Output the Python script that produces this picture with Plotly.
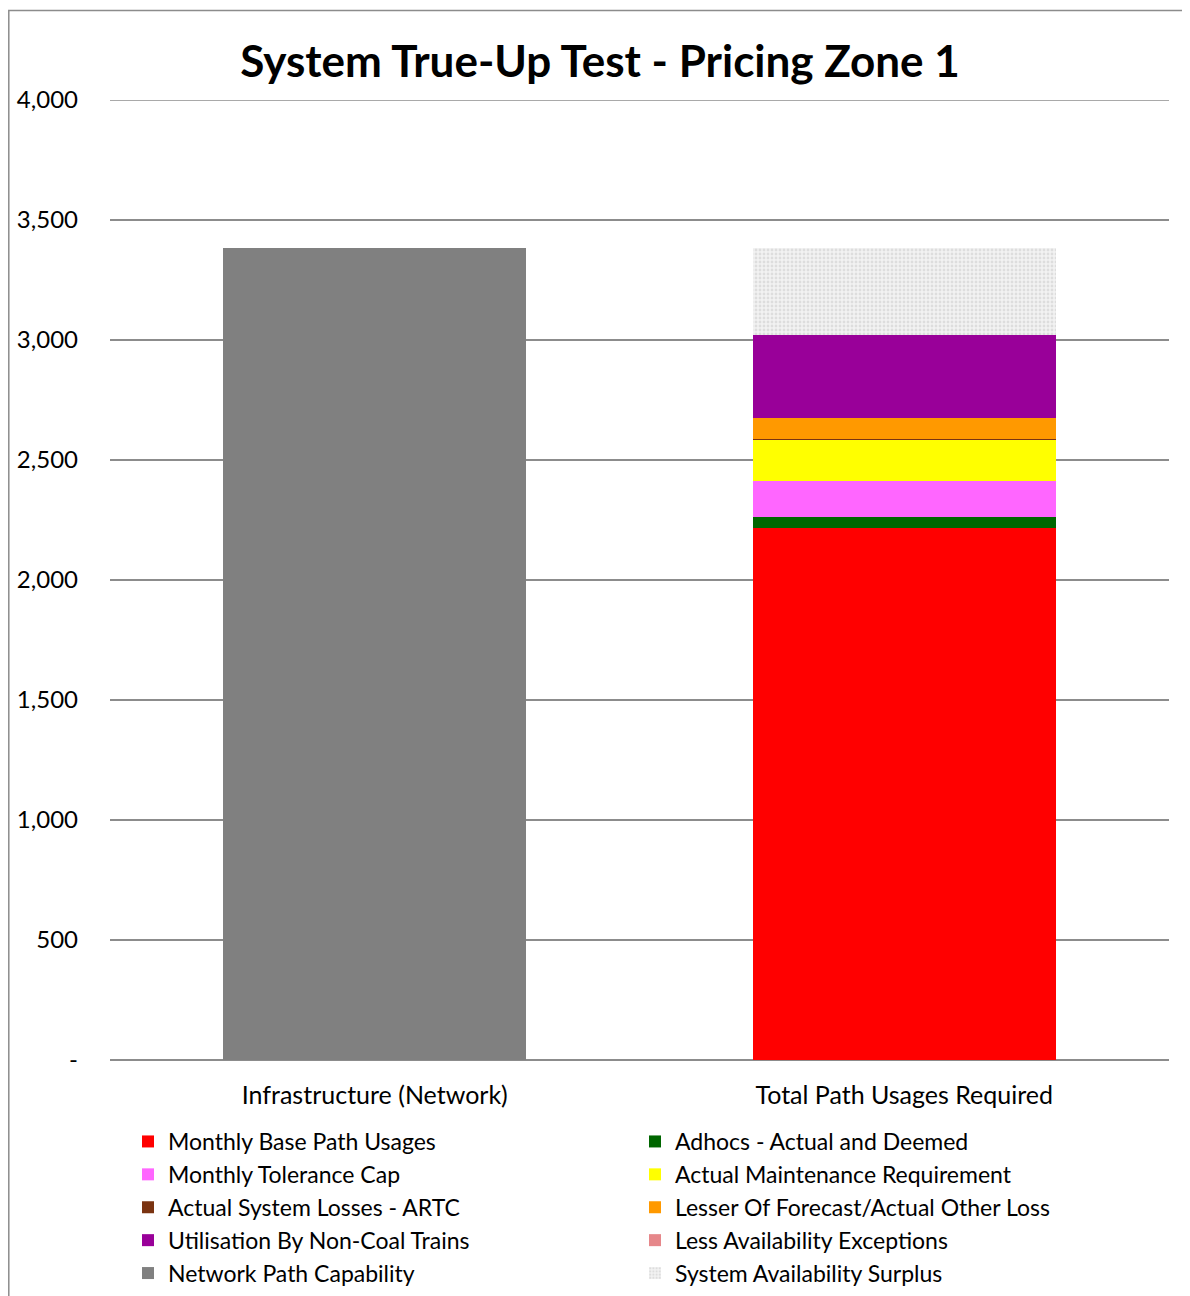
import plotly.graph_objects as go

# ---- data ----
categories = ["Infrastructure (Network)", "Total Path Usages Required"]
series_names = [
    "Monthly Base Path Usages",
    "Adhocs - Actual and Deemed",
    "Monthly Tolerance Cap",
    "Actual Maintenance Requirement",
    "Actual System Losses - ARTC",
    "Lesser Of Forecast/Actual Other Loss",
    "Utilisation By Non-Coal Trains",
    "Less Availability Exceptions",
    "Network Path Capability",
    "System Availability Surplus",
]
monthly_base = [None, 2218]
adhocs = [None, 45]
tolerance_cap = [None, 151]
maintenance = [None, 170]
losses_artc = [None, 3]
other_loss = [None, 89]
non_coal = [None, 346]
availability_exceptions = [None, 0]
network_capability = [3383, None]
surplus = [None, 361]

series_values = [monthly_base, adhocs, tolerance_cap, maintenance, losses_artc,
                 other_loss, non_coal, availability_exceptions, network_capability, surplus]
colors = ["#FF0000", "#006600", "#FF66FF", "#FFFF00", "#7A3311",
          "#FF9900", "#990099", "#E6878A", "#808080", "#EEEEEE"]

y_tickvals = [0, 500, 1000, 1500, 2000, 2500, 3000, 3500, 4000]
y_ticktext = ["-", "500", "1,000", "1,500", "2,000", "2,500", "3,000", "3,500", "4,000"]
y_max = 4000

# ---- layout geometry (page has an 8px body margin) ----
OFF = 8
W, H = 1190 - OFF, 1296 - OFF
ML = 110 - OFF
MT = 100 - OFF
MR = W - (1169 - OFF)
MB = H - (1060 - OFF)
PW = W - ML - MR
PH = H - MT - MB

FONT = "Lato, Carlito, Calibri, sans-serif"
GRID = "#8C8C8C"

fig = go.Figure()
for name, vals, col in zip(series_names, series_values, colors):
    marker = dict(color=col, line=dict(width=0))
    if name == "System Availability Surplus":
        marker = dict(color="#F2F2F2", line=dict(width=0),
                      pattern=dict(shape=".", fgcolor="#C8C8C8", bgcolor="#F2F2F2",
                                   size=4, solidity=0.4))
    fig.add_trace(go.Bar(name=name, x=categories, y=vals, marker=marker))

fig.update_layout(
    width=W, height=H,
    barmode="stack", bargap=0.428,
    margin=dict(l=ML, r=MR, t=MT, b=MB, autoexpand=False),
    paper_bgcolor="white", plot_bgcolor="white",
    font=dict(family=FONT, size=24, color="#000000"),
    title=dict(text="<b>System True-Up Test - Pricing Zone 1</b>",
               x=(600 - 110) / PW, xref="paper", xanchor="center",
               y=1 - (62 - OFF) / H, yref="container", yanchor="middle",
               font=dict(family=FONT, size=44, color="#000000")),
    showlegend=True,
    legend=dict(orientation="h", x=18 / PW, xanchor="left",
                y=-60 / PH, yanchor="top",
                entrywidth=462, entrywidthmode="pixels",
                traceorder="normal", font=dict(family=FONT, size=23),
                itemwidth=30, bgcolor="rgba(0,0,0,0)"),
    xaxis=dict(showgrid=False, showline=False, ticks="", ticklabelstandoff=18,
               tickfont=dict(family=FONT, size=25)),
    yaxis=dict(range=[0, y_max], tickvals=y_tickvals, ticktext=y_ticktext,
               showgrid=True, gridcolor=GRID, gridwidth=1.5,
               zeroline=True, zerolinecolor=GRID, zerolinewidth=1.5,
               showline=False, ticks="", ticklabelstandoff=31,
               tickfont=dict(family=FONT, size=24)),
)

# top gridline at the axis maximum (plotly omits the gridline on the plot edge)
fig.add_shape(type="line", xref="paper", yref="y", x0=0, x1=1, y0=y_max, y1=y_max,
              line=dict(color=GRID, width=1.5), layer="below")

# chart-area frame (left and top edges visible in the reference)
fig.add_shape(type="rect", xref="paper", yref="paper",
              x0=(0.8 - ML) / PW, x1=(W + 20 - ML) / PW,
              y0=(MT + PH - (H + 30)) / PH, y1=(MT + PH - 2.5) / PH,
              line=dict(color=GRID, width=1.5), fillcolor="rgba(0,0,0,0)", layer="below")

fig.write_html("out.html")
